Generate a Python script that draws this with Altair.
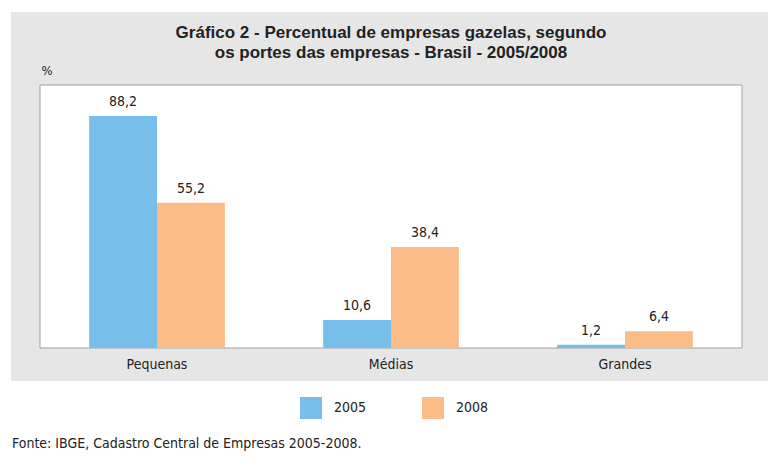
import altair as alt
import pandas as pd

categories = ["Pequenas", "Médias", "Grandes"]
years = ["2005", "2008"]
values_2005 = [88.2, 10.6, 1.2]
values_2008 = [55.2, 38.4, 6.4]
colors = ["#77BEEA", "#FBBC88"]

FONT = "Liberation Sans Narrow, DejaVu Sans Condensed, Roboto Condensed, Arial Narrow, DejaVu Sans, sans-serif"
TFONT = "Liberation Sans Narrow, Liberation Sans, Arial, sans-serif"

rows = []
for c, v5, v8 in zip(categories, values_2005, values_2008):
    rows.append({"porte": c, "ano": "2005", "valor": v5})
    rows.append({"porte": c, "ano": "2008", "valor": v8})
df = pd.DataFrame(rows)
df["rotulo"] = df["valor"].map(lambda v: f"{v:.1f}".replace(".", ","))

one = pd.DataFrame({"k": [0]})

W, H = 702, 263

gray_bg = alt.Chart(one).mark_rect(color="#E6E6E6").encode(
    x=alt.value(-29), x2=alt.value(728), y=alt.value(-73), y2=alt.value(296)
)
frame = alt.Chart(one).mark_rect(fill="white", stroke="#A0A0A0", strokeWidth=1).encode(
    x=alt.value(0), x2=alt.value(W), y=alt.value(0), y2=alt.value(H)
)

xenc = alt.X("porte:N", sort=categories,
             scale=alt.Scale(paddingInner=0.42, paddingOuter=0.21),
             axis=alt.Axis(title=None, labelAngle=0, ticks=False, domain=False,
                           labelPadding=9, labelFontSize=14, labelColor="#222",
                           labelFont=FONT, zindex=1))
yenc = alt.Y("valor:Q", scale=alt.Scale(domain=[0, 100]),
             axis=alt.Axis(labels=False, ticks=False, domain=False, grid=False,
                           title="%", titleAngle=0, titleX=1, titleY=-8,
                           titleAlign="left", titleBaseline="bottom",
                           titleFont=FONT, titleFontSize=13, titleFontWeight="normal",
                           titleColor="#222", zindex=1))

bars = alt.Chart(df).mark_bar().encode(
    x=xenc,
    xOffset=alt.XOffset("ano:N", sort=years),
    y=yenc,
    color=alt.Color("ano:N", sort=years,
                    scale=alt.Scale(domain=years, range=colors),
                    legend=alt.Legend(title=None, orient="none", legendX=260, legendY=312,
                                      direction="horizontal", symbolType="square",
                                      symbolSize=484, symbolStrokeWidth=0, symbolOpacity=1,
                                      labelOffset=12, columnPadding=55,
                                      labelFont=FONT, labelFontSize=14, labelColor="#222")),
)

labels = alt.Chart(df).mark_text(baseline="bottom", dy=-7, font=FONT, fontSize=14, color="#222").encode(
    x=alt.X("porte:N", sort=categories),
    xOffset=alt.XOffset("ano:N", sort=years),
    y="valor:Q",
    text="rotulo:N",
)

source = alt.Chart(one).mark_text(align="left", baseline="middle", font=FONT, fontSize=14, color="#222").encode(
    x=alt.value(-28), y=alt.value(359),
    text=alt.value("Fonte: IBGE, Cadastro Central de Empresas 2005-2008."),
)

chart = alt.layer(gray_bg, frame, bars, labels, source).properties(
    width=W, height=H,
    title=alt.TitleParams(
        ["Gráfico 2 - Percentual de empresas gazelas, segundo",
         "os portes das empresas - Brasil - 2005/2008"],
        font=TFONT, fontSize=17, fontWeight="bold", color="#222",
        lineHeight=20, anchor="middle", offset=24, dy=74, zindex=1),
    padding={"left": 32, "top": 77, "right": 30, "bottom": 110},
    autosize=alt.AutoSizeParams(type="none"),
    background="white",
).configure_view(stroke=None)

chart.save("out.html", embed_options={"renderer": "svg", "actions": False})
